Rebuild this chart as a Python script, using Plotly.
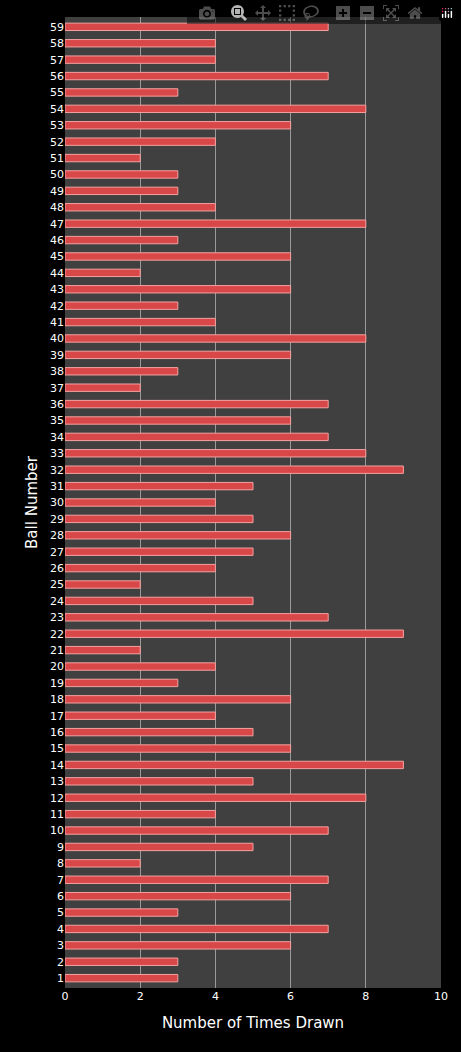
import plotly.graph_objects as go

balls = list(range(1, 60))
times_drawn = [3, 3, 6, 7, 3, 6, 7, 2, 5, 7,
               4, 8, 5, 9, 6, 5, 4, 6, 3, 4,
               2, 9, 7, 5, 2, 4, 5, 6, 5, 4,
               5, 9, 8, 7, 6, 7, 2, 3, 6, 8,
               4, 3, 6, 2, 6, 3, 8, 4, 3, 3,
               2, 4, 6, 8, 3, 7, 4, 4, 7]

fig = go.Figure()
fig.add_trace(go.Bar(
    y=balls, x=times_drawn, orientation="h", width=0.45,
    marker=dict(color="#d94848", line=dict(color="#f5a0a0", width=1)),
))
fig.update_layout(
    width=461, height=1052,
    paper_bgcolor="black", plot_bgcolor="#404040",
    margin=dict(l=65, r=20, t=17, b=64),
    font=dict(family="DejaVu Sans", color="white", size=11),
    showlegend=False,
)
fig.update_xaxes(range=[0, 10], dtick=2, showgrid=True, gridcolor="#9a9a9a",
                 zeroline=False, ticks="", title=dict(text="Number of Times Drawn", font=dict(size=15)))
fig.update_yaxes(range=[0.4, 59.6], tickmode="array", tickvals=balls, ticktext=[str(b) for b in balls],
                 showgrid=False, zeroline=False, ticks="",
                 title=dict(text="Ball Number", font=dict(size=15), standoff=8))
fig.write_html("out.html",
               post_script="document.body.style.margin='0';document.body.style.background='black';")
